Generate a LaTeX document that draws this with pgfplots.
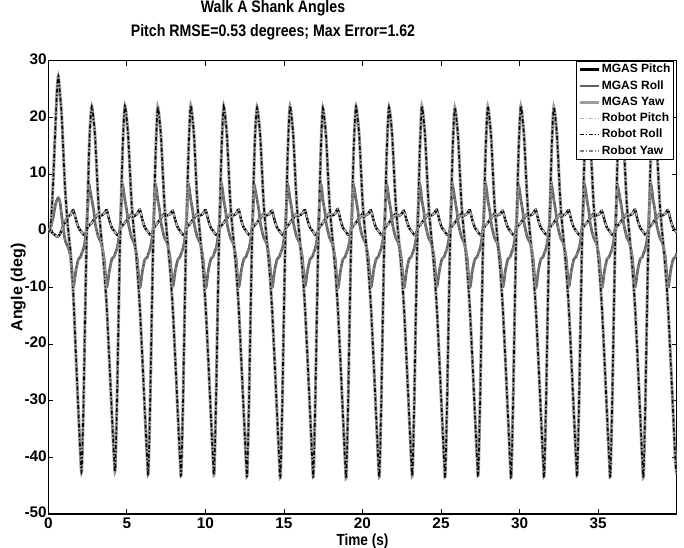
\documentclass[border=0pt]{standalone}
\usepackage{fontspec}
\setmainfont{Liberation Sans}
\newfontfamily\condfont{Liberation Sans}[FakeStretch=0.85]
\usepackage{pgfplots}
\usepackage{pgfplotstable}
\pgfplotsset{compat=1.18}

\definecolor{mroll}{gray}{0.38}
\definecolor{myaw}{gray}{0.62}
\definecolor{rpitch}{gray}{0.72}
\definecolor{ryaw}{gray}{0.50}

% t = time (s); big = large swing, mid = medium swing, pitch = small swing
\pgfplotstableread{
t big mid pitch
0.00 0.0 0.0 0.2
0.15 0.6 0.6 0.0
0.30 8.0 2.2 -0.5
0.45 18.0 4.5 -0.8
0.55 24.5 5.4 -1.0
0.64 27.2 5.8 -1.0
0.75 24.0 5.0 -0.6
0.86 20.0 2.5 0.2
1.06 8.0 -1.5 1.5
1.24 1.0 -2.8 2.5
1.42 -4.0 -4.6 2.8
1.59 -11.0 -9.8 3.6
1.76 -22.0 -7.0 2.0
1.92 -32.0 -5.0 0.6
2.06 -40.3 -4.6 0.0
2.13 -42.2 -4.0 -0.3
2.24 -31.0 -3.2 -0.7
2.34 -16.0 -1.8 -0.8
2.43 -3.0 0.5 0.0
2.51 5.0 4.0 0.6
2.58 12.5 8.1 0.9
2.66 18.4 7.2 1.1
2.77 21.9 5.5 1.4
2.89 19.4 3.6 1.9
2.99 16.1 1.2 2.2
3.19 5.0 -1.1 3.0
3.37 -1.0 -2.2 2.7
3.55 -6.4 -4.8 3.0
3.72 -13.4 -9.9 3.6
3.89 -23.0 -7.1 1.8
4.05 -32.4 -5.0 0.5
4.19 -40.2 -4.6 0.0
4.26 -42.2 -4.0 -0.3
4.37 -30.8 -3.2 -0.7
4.47 -16.0 -1.8 -0.8
4.56 -3.0 0.4 0.0
4.64 5.0 4.0 0.6
4.71 12.4 8.0 0.9
4.79 18.4 7.2 1.1
4.88 22.0 5.4 1.4
5.00 19.6 3.5 1.8
5.10 16.0 1.3 2.2
5.30 5.1 -1.2 3.0
5.48 -0.9 -2.3 2.6
5.66 -6.5 -4.9 3.0
5.83 -13.6 -10.0 3.7
6.00 -23.1 -7.0 1.8
6.16 -32.6 -5.0 0.5
6.30 -40.5 -4.7 0.0
6.37 -42.6 -4.1 -0.3
6.48 -31.1 -3.2 -0.7
6.58 -16.1 -1.8 -0.8
6.67 -3.1 0.5 0.0
6.75 5.0 4.0 0.6
6.82 12.5 7.9 0.9
6.90 18.5 7.1 1.1
6.97 21.8 5.5 1.4
7.09 19.4 3.5 1.9
7.19 15.9 1.2 2.3
7.39 4.9 -1.2 3.0
7.57 -1.1 -2.2 2.7
7.75 -6.6 -4.7 2.9
7.92 -13.5 -9.8 3.5
8.09 -23.0 -7.0 1.8
8.25 -32.5 -5.1 0.5
8.39 -40.6 -4.6 0.0
8.46 -42.9 -4.0 -0.3
8.57 -31.2 -3.2 -0.7
8.67 -16.0 -1.8 -0.8
8.76 -3.0 0.5 0.0
8.84 5.0 4.0 0.6
8.91 12.5 8.0 0.9
8.99 18.4 7.2 1.1
9.07 22.1 5.5 1.4
9.19 19.6 3.5 1.9
9.29 16.1 1.2 2.2
9.49 5.0 -1.2 3.0
9.67 -1.0 -2.2 2.7
9.85 -6.5 -4.9 3.0
10.02 -13.6 -10.1 3.6
10.19 -23.0 -7.0 1.8
10.35 -32.6 -5.0 0.5
10.49 -40.5 -4.6 0.0
10.56 -42.8 -4.0 -0.3
10.67 -31.0 -3.2 -0.7
10.77 -16.0 -1.8 -0.8
10.86 -3.0 0.5 0.0
10.94 5.1 4.0 0.6
11.01 12.6 8.1 0.9
11.09 18.6 7.3 1.1
11.17 21.9 5.4 1.4
11.29 19.4 3.4 1.9
11.39 16.0 1.1 2.2
11.59 5.0 -1.2 3.0
11.77 -1.0 -2.2 2.7
11.95 -6.5 -4.8 3.0
12.12 -13.5 -9.9 3.7
12.29 -23.1 -7.0 1.8
12.45 -32.6 -5.0 0.5
12.59 -40.7 -4.6 0.0
12.66 -43.0 -4.0 -0.3
12.77 -31.1 -3.2 -0.7
12.87 -16.0 -1.8 -0.8
12.96 -3.0 0.5 0.0
13.04 5.0 3.9 0.6
13.11 12.4 7.8 0.9
13.19 18.4 7.0 1.1
13.29 21.7 5.5 1.4
13.41 19.3 3.5 1.9
13.51 15.9 1.2 2.2
13.71 4.9 -1.2 3.0
13.89 -1.0 -2.2 2.7
14.07 -6.5 -4.8 2.9
14.24 -13.5 -10.0 3.5
14.41 -23.1 -7.0 1.8
14.57 -32.7 -5.0 0.5
14.71 -40.9 -4.6 0.0
14.78 -43.3 -4.0 -0.3
14.89 -31.3 -3.2 -0.7
14.99 -16.1 -1.8 -0.8
15.08 -3.0 0.5 0.0
15.16 5.0 4.0 0.6
15.23 12.5 8.0 0.9
15.31 18.5 7.2 1.1
15.39 22.0 5.6 1.4
15.51 19.5 3.6 1.9
15.61 16.0 1.3 2.2
15.81 5.0 -1.1 3.0
15.99 -1.0 -2.1 2.7
16.17 -6.5 -4.7 3.0
16.34 -13.5 -9.7 3.6
16.51 -23.0 -6.9 1.8
16.67 -32.5 -5.0 0.5
16.81 -40.7 -4.6 0.0
16.88 -43.1 -4.0 -0.3
16.99 -31.1 -3.2 -0.7
17.09 -16.0 -1.8 -0.8
17.18 -3.0 0.5 0.0
17.26 5.0 4.1 0.6
17.33 12.5 8.2 0.9
17.41 18.5 7.3 1.1
17.48 21.6 5.4 1.4
17.60 19.2 3.5 1.9
17.70 15.8 1.2 2.2
17.90 4.9 -1.2 3.1
18.08 -1.1 -2.3 2.7
18.26 -6.6 -4.9 3.0
18.43 -13.6 -10.1 3.8
18.60 -23.2 -7.1 1.9
18.76 -32.8 -5.0 0.5
18.90 -41.0 -4.6 0.0
18.97 -43.4 -4.0 -0.3
19.08 -31.3 -3.2 -0.7
19.18 -16.1 -1.8 -0.8
19.27 -3.0 0.5 0.0
19.35 5.0 4.0 0.6
19.42 12.5 7.9 0.9
19.50 18.4 7.1 1.1
19.59 21.9 5.5 1.4
19.71 19.4 3.5 1.9
19.81 16.0 1.2 2.2
20.01 5.0 -1.2 3.0
20.19 -1.0 -2.2 2.7
20.37 -6.5 -4.8 3.0
20.54 -13.5 -9.9 3.6
20.71 -23.0 -7.0 1.8
20.87 -32.6 -5.0 0.5
21.01 -40.8 -4.6 0.0
21.08 -43.2 -4.0 -0.3
21.19 -31.2 -3.2 -0.7
21.29 -16.0 -1.8 -0.8
21.38 -3.0 0.5 0.0
21.46 5.0 4.0 0.6
21.53 12.5 8.0 0.9
21.61 18.4 7.2 1.1
21.69 21.8 5.5 1.4
21.81 19.4 3.5 1.9
21.91 15.9 1.2 2.2
22.11 5.0 -1.2 3.0
22.29 -1.0 -2.2 2.6
22.47 -6.5 -4.8 2.9
22.64 -13.5 -10.0 3.5
22.81 -23.0 -7.0 1.8
22.97 -32.5 -5.0 0.5
23.11 -40.7 -4.6 0.0
23.18 -43.0 -4.0 -0.3
23.29 -31.1 -3.2 -0.7
23.39 -16.0 -1.8 -0.8
23.48 -3.0 0.5 0.0
23.56 5.0 4.0 0.6
23.63 12.5 8.1 0.9
23.71 18.5 7.2 1.1
23.78 22.0 5.4 1.4
23.90 19.5 3.5 1.9
24.00 16.0 1.2 2.2
24.20 5.0 -1.2 3.0
24.38 -1.0 -2.2 2.7
24.56 -6.5 -4.7 3.0
24.73 -13.5 -9.8 3.7
24.90 -23.0 -7.0 1.8
25.06 -32.6 -5.0 0.5
25.20 -40.7 -4.6 0.0
25.27 -43.1 -4.0 -0.3
25.38 -31.1 -3.2 -0.7
25.48 -16.0 -1.8 -0.8
25.57 -3.0 0.5 0.0
25.65 5.0 3.9 0.6
25.72 12.5 7.9 0.9
25.80 18.5 7.1 1.1
25.88 21.7 5.6 1.4
26.00 19.3 3.6 1.9
26.10 15.9 1.3 2.2
26.30 4.9 -1.1 3.0
26.48 -1.0 -2.2 2.7
26.66 -6.5 -4.8 3.0
26.83 -13.5 -10.0 3.6
27.00 -23.0 -7.0 1.8
27.16 -32.5 -5.0 0.5
27.30 -40.5 -4.6 0.0
27.37 -42.9 -4.0 -0.3
27.48 -31.0 -3.2 -0.7
27.58 -16.0 -1.8 -0.8
27.67 -3.0 0.5 0.0
27.75 5.0 4.1 0.6
27.82 12.5 8.2 0.9
27.90 18.4 7.3 1.1
27.98 21.9 5.4 1.4
28.10 19.4 3.5 1.9
28.20 16.0 1.2 2.2
28.40 5.0 -1.2 3.0
28.58 -1.0 -2.2 2.7
28.76 -6.5 -4.8 2.9
28.93 -13.5 -9.9 3.5
29.10 -23.0 -7.0 1.8
29.26 -32.6 -5.0 0.5
29.40 -40.8 -4.6 0.0
29.47 -43.2 -4.0 -0.3
29.58 -31.2 -3.2 -0.7
29.68 -16.0 -1.8 -0.8
29.77 -3.0 0.5 0.0
29.85 5.0 3.9 0.6
29.92 12.5 7.9 0.9
30.00 18.5 7.1 1.1
30.08 22.0 5.5 1.4
30.20 19.5 3.5 1.9
30.30 16.0 1.2 2.2
30.50 5.0 -1.2 3.0
30.68 -1.0 -2.2 2.7
30.86 -6.5 -4.9 3.0
31.03 -13.6 -10.1 3.7
31.20 -23.0 -7.0 1.8
31.36 -32.5 -5.0 0.5
31.50 -40.7 -4.6 0.0
31.57 -43.0 -4.0 -0.3
31.68 -31.1 -3.2 -0.7
31.78 -16.0 -1.8 -0.8
31.87 -3.0 0.5 0.0
31.95 5.0 4.0 0.6
32.02 12.5 8.1 0.9
32.10 18.5 7.2 1.1
32.18 21.8 5.5 1.4
32.30 19.4 3.5 1.9
32.40 15.9 1.2 2.2
32.60 5.0 -1.2 3.0
32.78 -1.0 -2.2 2.7
32.96 -6.5 -4.7 3.0
33.13 -13.5 -9.8 3.6
33.30 -23.0 -7.0 1.8
33.46 -32.5 -5.0 0.5
33.60 -40.5 -4.6 0.0
33.67 -42.8 -4.0 -0.3
33.78 -31.0 -3.2 -0.7
33.88 -16.0 -1.8 -0.8
33.97 -3.0 0.5 0.0
34.05 5.0 4.0 0.6
34.12 12.5 8.0 0.9
34.20 18.4 7.2 1.1
34.29 21.6 5.4 1.4
34.41 19.2 3.4 1.9
34.51 15.8 1.1 2.2
34.71 4.9 -1.2 3.0
34.89 -1.0 -2.2 2.7
35.07 -6.5 -4.8 2.9
35.24 -13.5 -10.0 3.5
35.41 -23.0 -7.0 1.8
35.57 -32.6 -5.0 0.5
35.71 -40.7 -4.6 0.0
35.78 -43.1 -4.0 -0.3
35.89 -31.1 -3.2 -0.7
35.99 -16.0 -1.8 -0.8
36.08 -3.0 0.5 0.0
36.16 5.0 3.9 0.6
36.23 12.5 7.8 0.9
36.31 18.4 7.0 1.1
36.40 21.9 5.6 1.4
36.52 19.4 3.6 1.9
36.62 16.0 1.3 2.2
36.82 5.0 -1.1 3.0
37.00 -1.0 -2.2 2.7
37.18 -6.5 -4.8 3.0
37.35 -13.5 -9.9 3.7
37.52 -23.0 -7.0 1.8
37.68 -32.6 -5.0 0.5
37.82 -40.9 -4.6 0.0
37.89 -43.3 -4.0 -0.3
38.00 -31.2 -3.2 -0.7
38.10 -16.0 -1.8 -0.8
38.19 -3.0 0.5 0.0
38.27 5.0 4.1 0.6
38.34 12.5 8.2 0.9
38.42 18.5 7.3 1.1
38.50 21.8 5.5 1.4
38.62 19.4 3.5 1.9
38.72 15.9 1.2 2.2
38.92 5.0 -1.2 3.0
39.10 -1.0 -2.2 2.7
39.28 -6.5 -4.8 3.0
39.45 -13.5 -10.0 3.6
39.62 -23.0 -7.0 1.8
39.78 -32.5 -5.0 0.5
39.92 -40.6 -4.6 0.0
40.00 -43.0 -4.0 -0.3
}\walk

\begin{document}
\begin{tikzpicture}
\useasboundingbox (-36.2pt,-25.5pt) rectangle (476.8pt,385.5pt);
\begin{axis}[
  at={(0,0)}, anchor=south west,
  scale only axis, width=471.3pt, height=340pt,
  xmin=0, xmax=40, ymin=-50, ymax=30,
  xtick={0,5,...,35}, ytick={-50,-40,...,30},
  tick align=inside, major tick length=3.75pt,
  axis line style={line width=0.9pt},
  tick style={line width=0.6pt, black},
  /pgf/number format/assume math mode=true,
  ticklabel style={font=\bfseries\fontsize{11.5}{11.5}\selectfont},
  yticklabel style={inner xsep=1pt, yshift=1pt},
  xticklabel style={inner ysep=3pt},
  title={Walk A Shank Angles\\Pitch RMSE=0.53 degrees; Max Error=1.62},
  title style={at={(axis description cs:0.3576,1)}, anchor=south, align=center,
    inner sep=0pt, yshift=9.3pt, font=\condfont\bfseries\fontsize{12.5}{18.2}\selectfont},
  xlabel={Time (s)},
  xlabel style={at={(axis description cs:0.5,-0.0685)}, anchor=base,
    font=\condfont\bfseries\fontsize{12}{12}\selectfont},
  ylabel={Angle (deg)},
  ylabel style={at={(axis description cs:-0.0477,0.5)}, anchor=center,
    font=\bfseries\fontsize{12}{12}\selectfont},
  legend style={at={(axis description cs:0.995,1)}, anchor=north east,
    draw=black, line width=0.6pt, fill=white, inner sep=1pt,
    font=\bfseries\fontsize{9}{9}\selectfont,
    nodes={inner sep=1pt, text height=6.8pt, text depth=2pt},
    row sep=1.4pt},
  legend cell align=left,
  legend image code/.code={\draw[#1] (0pt,0pt) -- (14.5pt,0pt);},
  every axis plot/.append style={smooth, tension=0.45},
]
\addplot[black, line width=1.8pt] table[x=t, y=pitch] {\walk};
\addlegendentry{MGAS Pitch}
\addplot[mroll, line width=2pt] table[x=t, y=mid] {\walk};
\addlegendentry{MGAS Roll}
\addplot[myaw, line width=2.3pt] table[x=t, y=big] {\walk};
\addlegendentry{MGAS Yaw}
\addplot[rpitch, line width=1.2pt, dash pattern=on 3pt off 1.5pt on 1pt off 1.5pt] table[x=t, y=pitch] {\walk};
\addlegendentry{Robot Pitch}
\addplot[black, line width=1.2pt, dash pattern=on 3pt off 1.5pt on 1pt off 1.5pt] table[x=t, y=big] {\walk};
\addlegendentry{Robot Roll}
\addplot[ryaw, line width=1.3pt, dash pattern=on 3pt off 1.5pt on 1pt off 1.5pt] table[x=t, y=mid] {\walk};
\addlegendentry{Robot Yaw}
\end{axis}
\end{tikzpicture}
\end{document}
